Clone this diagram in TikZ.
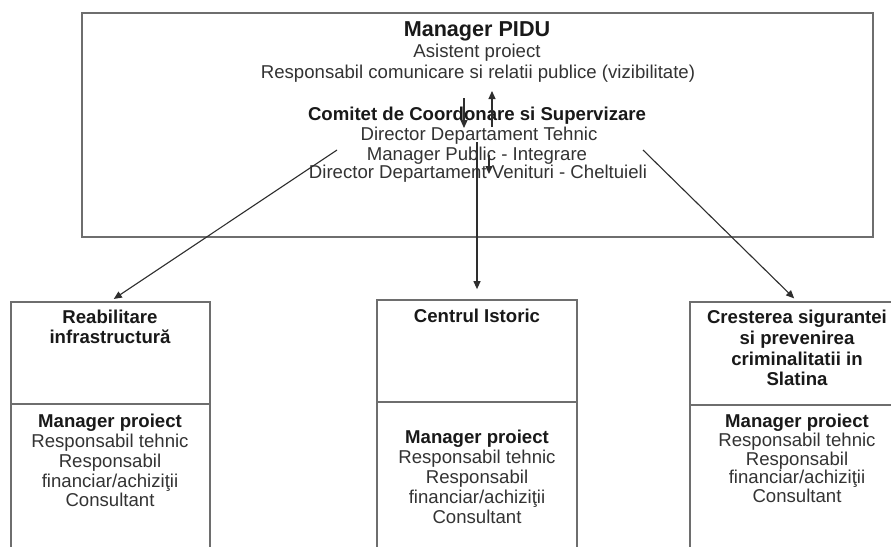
\documentclass[tikz,border=0pt]{standalone}
\usepackage{fontspec}
\setmainfont{Liberation Sans}
\usetikzlibrary{arrows.meta}
\definecolor{boxgray}{HTML}{6E6E6E}
\definecolor{txt}{HTML}{333333}
\definecolor{lnk}{HTML}{2E2E2E}
\tikzset{
  frame/.style={draw=boxgray, line width=1.7pt, inner sep=0pt},
  txtline/.style={anchor=base, inner sep=0pt, text=txt, font=\fontsize{18.6}{21}\selectfont},
  boldline/.style={anchor=base, inner sep=0pt, text=black!90, font=\fontsize{18.6}{21}\selectfont\bfseries},
  titleline/.style={anchor=base, inner sep=0pt, text=black!90, font=\fontsize{21.6}{24}\selectfont\bfseries},
  link/.style={draw=lnk, line width=1.1pt, -{Triangle[length=8pt,width=7pt]}},
}
\begin{document}
\begin{tikzpicture}[x=1pt,y=-1pt]
\useasboundingbox (0,0) rectangle (891,546);
\fill[white] (0,0) rectangle (891,546);
\begin{scope}
\clip (0,0) rectangle (891,546);
% top box
\node[frame, minimum width=791pt, minimum height=224pt] (top) at (477.5,125) {};
\node[titleline] (pidu) at (477,36) {Manager PIDU};
\node[txtline] (asist) at (477,57) {Asistent proiect};
\node[txtline] (resp) at (478,78) {Responsabil comunicare si relatii publice (vizibilitate)};
\node[boldline] (comitet) at (477,120) {Comitet de Coordonare si Supervizare};
\node[txtline] (dirteh) at (479,140) {Director Departament Tehnic};
\node[txtline] (manpub) at (477,160) {Manager Public - Integrare};
\node[txtline] (dirven) at (478,178) {Director Departament Venituri - Cheltuieli};

% left box
\node[frame, minimum width=199pt, minimum height=102pt] (reabT) at (110.5,353) {};
\node[frame, minimum width=199pt, minimum height=166pt] (reabB) at (110.5,487) {};
\node[boldline] (reab1) at (110,323) {Reabilitare};
\node[boldline] (reab2) at (110,343) {infrastructură};
\node[boldline] (reabm) at (110,427) {Manager proiect};
\node[txtline] (reabr1) at (110,447) {Responsabil tehnic};
\node[txtline] (reabr2) at (110,467) {Responsabil};
\node[txtline] (reabr3) at (110,487) {financiar/achiziţii};
\node[txtline] (reabc) at (110,506) {Consultant};

% centre box
\node[frame, minimum width=200pt, minimum height=102pt] (centT) at (477,351) {};
\node[frame, minimum width=200pt, minimum height=168pt] (centB) at (477,486) {};
\node[boldline] (cent1) at (477,322) {Centrul Istoric};
\node[boldline] (centm) at (477,443) {Manager proiect};
\node[txtline] (centr1) at (477,463) {Responsabil tehnic};
\node[txtline] (centr2) at (477,483) {Responsabil};
\node[txtline] (centr3) at (477,503) {financiar/achiziţii};
\node[txtline] (centc) at (477,523) {Consultant};

% right box
\node[frame, minimum width=214pt, minimum height=103pt] (cresT) at (797,353.5) {};
\node[frame, minimum width=214pt, minimum height=165pt] (cresB) at (797,487.5) {};
\node[boldline] (cres1) at (797,323) {Cresterea sigurantei};
\node[boldline] (cres2) at (797,344) {si prevenirea};
\node[boldline] (cres3) at (797,365) {criminalitatii in};
\node[boldline] (cres4) at (797,385) {Slatina};
\node[boldline] (cresm) at (797,427) {Manager proiect};
\node[txtline] (cresr1) at (797,446) {Responsabil tehnic};
\node[txtline] (cresr2) at (797,465) {Responsabil};
\node[txtline] (cresr3) at (797,483) {financiar/achiziţii};
\node[txtline] (cresc) at (797,502) {Consultant};

% connectors
\coordinate (ls) at (337,150);
\coordinate (rs) at (643,150);
\coordinate (cs) at (477,142);
\coordinate (d1) at (464,98);
\coordinate (d2) at (464,128);
\coordinate (u1) at (492,127);
\coordinate (u2) at (492,91);
\coordinate (s1) at (489,155);
\coordinate (s2) at (489,174);
\draw[link, shorten >=4pt] (ls) -- (reabT.north);
\draw[link, shorten >=4pt] (rs) -- (cresT.north);
\draw[link, shorten >=10pt] (cs) -- (centT.north);
\draw[link] (d1) -- (d2);
\draw[link] (u1) -- (u2);
\draw[link] (s1) -- (s2);
\end{scope}
\end{tikzpicture}
\end{document}
